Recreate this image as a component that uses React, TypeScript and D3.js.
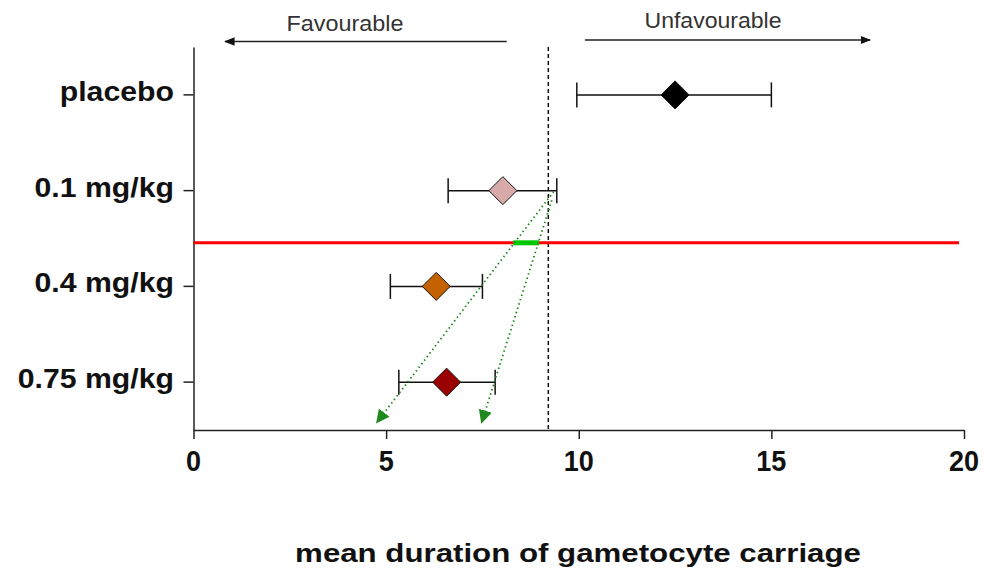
import { useRef, useEffect } from "react";
import * as d3 from "d3";

// dose groups, top to bottom
const groups = ["placebo", "0.1 mg/kg", "0.4 mg/kg", "0.75 mg/kg"];
const means = [12.5, 8.03, 6.3, 6.57];
const lowers = [9.95, 6.61, 5.11, 5.33];
const uppers = [15.0, 9.43, 7.5, 7.83];
const fills = ["#000000", "#d7a9a9", "#c46200", "#9b0000"];

const xTicks = [0, 5, 10, 15, 20];
const refValue = 9.21; // dashed reference line

// red threshold line sits between 0.1 and 0.4 rows (row index units)
const redRow = 1.545;
const redRange = [0, 19.87];
const greenRange = [8.3, 8.97];

// green dotted projection arrows: [x0, row0, x1, row1]
const projections: [number, number, number, number][] = [
  [9.35, 1.01, 4.76, 3.42],
  [9.3, 1.1, 7.48, 3.42]
];

// direction arrows above plot: [from, to]
const favourable = [8.13, 0.82];
const unfavourable = [10.16, 17.56];

export default function App() {
  const width = 984;
  const height = 572;
  const left = 193.5;
  const right = 964;
  const top = 47;
  const bottom = 430;

  const gxRef = useRef<SVGGElement | null>(null);
  const gyRef = useRef<SVGGElement | null>(null);

  const x = d3.scaleLinear().domain([0, 20]).range([left, right]);
  const y = d3.scaleBand().domain(groups).range([top, bottom]);
  const step = y.step();
  const yc = (g: string) => (y(g) ?? 0) + step / 2;
  // continuous row scale for things placed between rows
  const row = d3
    .scaleLinear()
    .domain([0, groups.length - 1])
    .range([top + step / 2, top + step / 2 + step * (groups.length - 1)]);

  useEffect(() => {
    if (gxRef.current) {
      const g = d3.select<SVGGElement, unknown>(gxRef.current);
      g.call(
        d3
          .axisBottom(x)
          .tickValues(xTicks)
          .tickSize(9)
          .tickSizeOuter(0)
          .tickFormat(() => "")
      );
      g.selectAll("path, line").attr("stroke", "#222").attr("stroke-width", 1.5);
    }
    if (gyRef.current) {
      const g = d3.select<SVGGElement, unknown>(gyRef.current);
      g.call(d3.axisLeft(y).tickSize(10).tickSizeOuter(0).tickFormat(() => ""));
      g.selectAll("path, line").attr("stroke", "#222").attr("stroke-width", 1.5);
    }
  }, []);

  const diamond = (cx: number, cy: number, r: number) =>
    `M${cx},${cy - r}L${cx + r},${cy}L${cx},${cy + r}L${cx - r},${cy}Z`;

  return (
    <svg
      width={width}
      height={height}
      style={{ position: "absolute", left: 0, top: 0, background: "#fff" }}
      fontFamily="'Liberation Sans', Arial, sans-serif"
    >
      <defs>
        <marker id="blackHead" viewBox="0 0 10 10" refX="9" refY="5" markerWidth="7" markerHeight="7" orient="auto">
          <path d="M0,1L10,5L0,9Z" fill="#111" />
        </marker>
        <marker id="greenHead" viewBox="0 0 10 10" refX="9" refY="5" markerWidth="7.5" markerHeight="7.5" orient="auto" markerUnits="strokeWidth">
          <path d="M0,0L10,5L0,10Z" fill="#1e8a1e" />
        </marker>
      </defs>

      {/* direction arrows */}
      <text x={345} y={31} textAnchor="middle" fontSize={22} fill="#333" textLength={117} lengthAdjust="spacingAndGlyphs">
        Favourable
      </text>
      <line x1={x(favourable[0])} x2={x(favourable[1])} y1={41.5} y2={41.5} stroke="#222" strokeWidth={1.5} markerEnd="url(#blackHead)" />
      <text x={713} y={28} textAnchor="middle" fontSize={22} fill="#333" textLength={137} lengthAdjust="spacingAndGlyphs">
        Unfavourable
      </text>
      <line x1={x(unfavourable[0])} x2={x(unfavourable[1])} y1={40} y2={40} stroke="#222" strokeWidth={1.5} markerEnd="url(#blackHead)" />

      {/* axes */}
      <g ref={gxRef} transform={`translate(0,${bottom})`} />
      <g ref={gyRef} transform={`translate(${left},0)`} />

      {xTicks.map(t => (
        <text key={t} transform={`translate(${x(t)},471) scale(0.9,1)`} textAnchor="middle" fontSize={30} fontWeight="bold" fill="#111">
          {t}
        </text>
      ))}
      {groups.map(g => (
        <text key={g} transform={`translate(174,${yc(g) + 6}) scale(1.12,1)`} textAnchor="end" fontSize={27} fontWeight="bold" fill="#111">
          {g}
        </text>
      ))}
      <text transform={`translate(578,562) scale(1.25,1)`} textAnchor="middle" fontSize={25} fontWeight="bold" fill="#111">
        mean duration of gametocyte carriage
      </text>

      {/* reference line */}
      <line x1={x(refValue)} x2={x(refValue)} y1={top} y2={bottom} stroke="#111" strokeWidth={1.5} strokeDasharray="4,3" />

      {/* error bars and diamonds */}
      {groups.map((g, i) => {
        const cy = yc(g);
        return (
          <g key={g}>
            <line x1={x(lowers[i])} x2={x(uppers[i])} y1={cy} y2={cy} stroke="#111" strokeWidth={1.5} />
            <line x1={x(lowers[i])} x2={x(lowers[i])} y1={cy - 12.5} y2={cy + 12.5} stroke="#111" strokeWidth={1.5} />
            <line x1={x(uppers[i])} x2={x(uppers[i])} y1={cy - 12.5} y2={cy + 12.5} stroke="#111" strokeWidth={1.5} />
            <path d={diamond(x(means[i]), cy, 14)} fill={fills[i]} stroke="#111" strokeWidth={1} />
          </g>
        );
      })}

      {/* red threshold and green band */}
      <line x1={x(redRange[0])} x2={x(redRange[1])} y1={row(redRow)} y2={row(redRow)} stroke="#ff0000" strokeWidth={3} />
      <line x1={x(greenRange[0])} x2={x(greenRange[1])} y1={row(redRow)} y2={row(redRow)} stroke="#00c800" strokeWidth={5} />

      {/* green dotted projections */}
      {projections.map((p, i) => (
        <line
          key={i}
          x1={x(p[0])}
          y1={row(p[1])}
          x2={x(p[2])}
          y2={row(p[3])}
          stroke="#1e8a1e"
          strokeWidth={1.8}
          strokeDasharray="1.5,3"
          markerEnd="url(#greenHead)"
        />
      ))}
    </svg>
  );
}
